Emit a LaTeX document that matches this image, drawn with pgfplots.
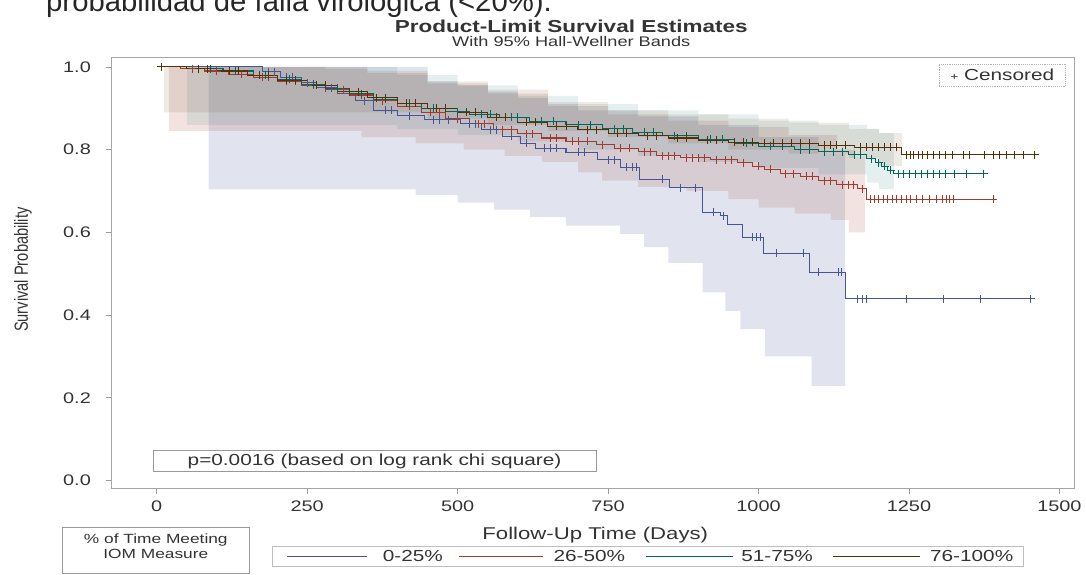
\documentclass[border=0pt]{standalone}
\usepackage{fontspec}
\setmainfont{Liberation Sans}[FakeStretch=1.3]
\newfontfamily\plainfont{Liberation Sans}
\usepackage{pgfplots}
\usepackage{pgfplotstable}
\usepgfplotslibrary{fillbetween}
\pgfplotsset{compat=1.18}
\definecolor{cA}{HTML}{445694}
\definecolor{cB}{HTML}{A23A2E}
\definecolor{cC}{HTML}{01665E}
\definecolor{cD}{HTML}{543005}
\definecolor{txt}{HTML}{333333}

\pgfplotstableread{
d s
0 1.000
175 0.988
205 0.975
240 0.962
265 0.950
300 0.935
330 0.918
360 0.895
400 0.882
445 0.872
505 0.862
540 0.848
575 0.832
605 0.815
630 0.803
680 0.793
733 0.775
771 0.757
802 0.728
852 0.708
907 0.649
937 0.640
948 0.618
973 0.588
1009 0.549
1084 0.503
1144 0.439
1452 0.439
}\survA
\pgfplotstableread{
d s
0 1.0
40 0.995
80 0.99
120 0.982
160 0.975
200 0.965
240 0.955
280 0.945
320 0.932
360 0.918
400 0.905
440 0.89
480 0.875
520 0.862
560 0.848
600 0.838
640 0.828
680 0.82
730 0.812
760 0.803
800 0.795
830 0.785
870 0.78
920 0.775
965 0.768
990 0.760
1010 0.752
1036 0.742
1070 0.735
1100 0.725
1130 0.715
1165 0.705
1180 0.68
1390 0.68
}\survB
\pgfplotstableread{
d s
0 1.0
60 0.995
110 0.99
160 0.98
200 0.97
240 0.958
280 0.948
320 0.935
360 0.922
400 0.912
440 0.9
480 0.892
520 0.885
570 0.878
620 0.868
680 0.86
740 0.85
790 0.842
840 0.833
900 0.825
960 0.815
1000 0.808
1060 0.8
1100 0.795
1150 0.788
1180 0.778
1195 0.768
1205 0.76
1215 0.75
1225 0.742
1374 0.742
}\survC
\pgfplotstableread{
d s
0 1.0
50 0.996
100 0.99
150 0.98
200 0.968
250 0.955
300 0.94
350 0.925
400 0.912
450 0.9
500 0.89
550 0.878
600 0.866
650 0.856
700 0.848
750 0.84
800 0.834
850 0.828
900 0.822
950 0.818
1000 0.815
1100 0.81
1160 0.806
1238 0.787
1459 0.787
}\survD

\pgfplotstableread{
d s
185 0.988
195 0.988
215 0.975
225 0.975
250 0.962
280 0.95
290 0.95
345 0.918
380 0.895
390 0.895
420 0.882
460 0.872
470 0.872
485 0.872
520 0.862
530 0.862
555 0.848
565 0.848
590 0.832
615 0.815
645 0.803
655 0.803
665 0.803
700 0.793
710 0.793
750 0.775
760 0.775
780 0.757
790 0.757
797 0.757
840 0.728
870 0.708
895 0.708
925 0.649
942 0.640
990 0.588
997 0.588
1003 0.588
1030 0.549
1075 0.549
1100 0.503
1132 0.503
1138 0.503
1164 0.439
1172 0.439
1180 0.439
1246 0.439
1308 0.439
1368 0.439
1452 0.439
}\censA
\pgfplotstableread{
d s
60 0.995
100 0.99
140 0.982
175 0.975
185 0.975
215 0.965
230 0.965
260 0.955
300 0.945
310 0.945
340 0.932
375 0.918
420 0.905
455 0.89
470 0.89
500 0.875
535 0.862
545 0.862
575 0.848
590 0.848
615 0.838
625 0.838
655 0.828
665 0.828
690 0.82
700 0.82
715 0.82
740 0.812
770 0.803
785 0.803
810 0.795
820 0.795
840 0.785
850 0.785
860 0.785
880 0.78
890 0.78
900 0.78
910 0.78
930 0.775
945 0.775
955 0.775
975 0.768
1000 0.76
1020 0.752
1045 0.742
1058 0.742
1080 0.735
1090 0.735
1110 0.725
1120 0.725
1140 0.715
1150 0.715
1158 0.715
1172 0.705
1186 0.68
1192 0.68
1200 0.68
1207 0.68
1215 0.68
1222 0.68
1230 0.68
1237 0.68
1245 0.68
1252 0.68
1262 0.68
1272 0.68
1284 0.68
1296 0.68
1306 0.68
1312 0.68
1318 0.68
1324 0.68
1390 0.68
}\censB
\pgfplotstableread{
d s
90 0.995
130 0.99
180 0.98
220 0.97
260 0.958
300 0.948
340 0.935
380 0.922
420 0.912
460 0.9
500 0.892
540 0.885
555 0.885
590 0.878
600 0.878
640 0.868
660 0.868
700 0.86
720 0.86
760 0.85
775 0.85
810 0.842
825 0.842
860 0.833
880 0.833
920 0.825
940 0.825
980 0.815
1020 0.808
1040 0.808
1070 0.8
1085 0.8
1110 0.795
1125 0.795
1140 0.795
1160 0.788
1170 0.788
1187 0.778
1200 0.768
1210 0.76
1220 0.75
1232 0.742
1240 0.742
1250 0.742
1260 0.742
1270 0.742
1280 0.742
1290 0.742
1300 0.742
1310 0.742
1325 0.742
1345 0.742
1374 0.742
}\censC
\pgfplotstableread{
d s
8 1.0
70 0.996
85 0.996
120 0.99
135 0.99
170 0.98
185 0.98
215 0.968
230 0.968
265 0.955
280 0.955
320 0.94
335 0.94
365 0.925
380 0.925
415 0.912
430 0.912
465 0.9
480 0.9
515 0.89
530 0.89
565 0.878
580 0.878
615 0.866
630 0.866
665 0.856
680 0.856
715 0.848
730 0.848
765 0.84
780 0.84
815 0.834
830 0.834
865 0.828
880 0.828
915 0.822
930 0.822
960 0.818
975 0.818
990 0.818
1010 0.815
1025 0.815
1040 0.815
1055 0.815
1070 0.815
1085 0.815
1110 0.81
1120 0.81
1130 0.81
1145 0.81
1170 0.806
1180 0.806
1190 0.806
1200 0.806
1210 0.806
1220 0.806
1230 0.806
1245 0.787
1252 0.787
1258 0.787
1265 0.787
1272 0.787
1280 0.787
1290 0.787
1300 0.787
1310 0.787
1322 0.787
1340 0.787
1350 0.787
1375 0.787
1390 0.787
1400 0.787
1412 0.787
1425 0.787
1440 0.787
1459 0.787
}\censD

\pgfplotstableread{
d lo hi
86 0.704 1.0
430 0.690 1.0
450 0.690 0.965
500 0.672 0.955
550 0.672 0.940
560 0.655 0.940
600 0.655 0.925
620 0.637 0.925
650 0.637 0.910
680 0.616 0.910
700 0.616 0.895
770 0.596 0.895
800 0.596 0.880
810 0.564 0.880
850 0.526 0.880
900 0.526 0.860
907 0.455 0.860
945 0.410 0.860
970 0.366 0.860
1000 0.366 0.830
1011 0.300 0.830
1088 0.229 0.830
1100 0.229 0.790
1144 0.229 0.790
}\bandA
\pgfplotstableread{
d lo hi
20 0.845 1.0
280 0.845 0.995
340 0.830 0.995
350 0.830 0.985
430 0.815 0.985
450 0.815 0.960
510 0.800 0.960
550 0.800 0.935
578 0.785 0.935
640 0.770 0.935
650 0.770 0.905
700 0.745 0.905
740 0.725 0.905
750 0.725 0.885
800 0.710 0.885
850 0.710 0.870
880 0.700 0.870
950 0.680 0.855
1000 0.660 0.855
1050 0.660 0.835
1060 0.645 0.835
1120 0.630 0.835
1130 0.630 0.800
1150 0.600 0.800
1160 0.600 0.780
1177 0.600 0.780
}\bandB
\pgfplotstableread{
d lo hi
50 0.860 1.0
400 0.850 0.980
500 0.835 0.955
600 0.820 0.930
700 0.800 0.910
800 0.785 0.895
900 0.770 0.885
1000 0.755 0.870
1100 0.740 0.860
1180 0.720 0.850
1200 0.705 0.840
1225 0.705 0.840
}\bandC
\pgfplotstableread{
d lo hi
12 0.890 1.0
350 0.890 0.990
450 0.875 0.965
550 0.860 0.945
650 0.845 0.915
750 0.830 0.895
850 0.815 0.885
950 0.800 0.875
1050 0.790 0.865
1150 0.780 0.850
1200 0.760 0.840
1238 0.760 0.840
}\bandD

\begin{document}
\begin{tikzpicture}
\begin{scope}[x=0.75pt,y=0.75pt]
\path[use as bounding box] (0,0) rectangle (1086,575);
\clip (0,0) rectangle (1086,575);
\node[anchor=base west, inner sep=0, font=\plainfont\fontsize{22}{26}\selectfont, text=black!85] at (46,563) {probabilidad de falla virológica (<20\%).};
\end{scope}
\begin{scope}[x=0.75pt,y=0.75pt]
\node[font=\bfseries\fontsize{13}{15}\selectfont, text=txt] at (572,549) {Product-Limit Survival Estimates};
\node[font=\fontsize{10.5}{12}\selectfont, text=txt] at (572,533) {With 95\% Hall-Wellner Bands};
\end{scope}

\begin{axis}[
  at={(83.25pt,64.5pt)}, anchor=south west,
  scale only axis, width=723.75pt, height=324pt,
  xmin=-76.3, xmax=1525.3, ymin=-0.019, ymax=1.024,
  xtick={0,250,500,750,1000,1250,1500},
  ytick={0,0.2,0.4,0.6,0.8,1.0},
  axis line style={draw=black!35},
  tick style={draw=black!40, line width=0.5pt},
  major tick length=4pt, tick align=outside,
  xtick pos=bottom, ytick pos=left,
  ticklabel style={font=\fontsize{11.5}{13}\selectfont, text=txt},
  xticklabel style={yshift=-2pt},
  yticklabel style={xshift=-7.5pt, /pgf/number format/.cd, fixed, fixed zerofill, precision=1},
  /pgf/number format/assume math mode=true,
  /pgf/number format/1000 sep={},
]
\addplot[name path=auA, draw=none, const plot, forget plot] table[x=d,y=hi] {\bandA};
\addplot[name path=alA, draw=none, const plot, forget plot] table[x=d,y=lo] {\bandA};
\addplot[fill=cA, fill opacity=0.16, draw=none, forget plot] fill between[of=auA and alA];
\addplot[name path=auB, draw=none, const plot, forget plot] table[x=d,y=hi] {\bandB};
\addplot[name path=alB, draw=none, const plot, forget plot] table[x=d,y=lo] {\bandB};
\addplot[fill=cB, fill opacity=0.14, draw=none, forget plot] fill between[of=auB and alB];
\addplot[name path=auC, draw=none, const plot, forget plot] table[x=d,y=hi] {\bandC};
\addplot[name path=alC, draw=none, const plot, forget plot] table[x=d,y=lo] {\bandC};
\addplot[fill=cC, fill opacity=0.10, draw=none, forget plot] fill between[of=auC and alC];
\addplot[name path=auD, draw=none, const plot, forget plot] table[x=d,y=hi] {\bandD};
\addplot[name path=alD, draw=none, const plot, forget plot] table[x=d,y=lo] {\bandD};
\addplot[fill=cD, fill opacity=0.10, draw=none, forget plot] fill between[of=auD and alD];
\addplot[cA, line width=0.8pt, const plot, forget plot] table[x=d,y=s] {\survA};
\addplot[cB, line width=0.8pt, const plot, forget plot] table[x=d,y=s] {\survB};
\addplot[cC, line width=0.8pt, const plot, forget plot] table[x=d,y=s] {\survC};
\addplot[cD, line width=0.8pt, const plot, forget plot] table[x=d,y=s] {\survD};
\addplot[cA, only marks, mark=+, mark size=3pt, line width=0.7pt, forget plot] table[x=d,y=s] {\censA};
\addplot[cB, only marks, mark=+, mark size=3pt, line width=0.7pt, forget plot] table[x=d,y=s] {\censB};
\addplot[cC, only marks, mark=+, mark size=3pt, line width=0.7pt, forget plot] table[x=d,y=s] {\censC};
\addplot[cD, only marks, mark=+, mark size=3pt, line width=0.7pt, forget plot] table[x=d,y=s] {\censD};
\end{axis}

\begin{scope}[x=0.75pt,y=0.75pt]
\node[font=\fontsize{12.8}{15}\selectfont, text=txt] at (596,39) {Follow-Up Time (Days)};
\node[rotate=90, text=txt] at (23,305) {\scalebox{1}[1.3]{\plainfont\fontsize{11}{13}\selectfont Survival Probability}};
\draw[black!30, densely dotted] (940,489) rectangle (1067,511);
\node[font=\fontsize{12}{14}\selectfont, text=txt] at (1003.5,500) {{\fontsize{8}{9}\selectfont+} Censored};
\draw[black!40, fill=white] (153,103) rectangle (597,124);
\node[font=\fontsize{12}{14}\selectfont, text=txt] at (375,113.5) {p=0.0016 (based on log rank chi square)};
\draw[black!40] (62,1) rectangle (250,47);
\node[font=\fontsize{10}{12}\selectfont, text=txt] at (156,34) {\% of Time Meeting};
\node[font=\fontsize{10}{12}\selectfont, text=txt] at (156,20) {IOM Measure};
\draw[black!25] (273,8) rectangle (1025,28);
\draw[cA, line width=0.7pt] (287,18) -- (367,18);
\node[anchor=west, inner sep=0, font=\fontsize{12}{14}\selectfont, text=txt] at (383,18) {0-25\%};
\draw[cB, line width=0.7pt] (460,18) -- (544,18);
\node[anchor=west, inner sep=0, font=\fontsize{12}{14}\selectfont, text=txt] at (554,18) {26-50\%};
\draw[cC, line width=0.7pt] (647,18) -- (734,18);
\node[anchor=west, inner sep=0, font=\fontsize{12}{14}\selectfont, text=txt] at (742,18) {51-75\%};
\draw[cD, line width=0.7pt] (834,18) -- (921,18);
\node[anchor=west, inner sep=0, font=\fontsize{12}{14}\selectfont, text=txt] at (931,18) {76-100\%};
\end{scope}
\end{tikzpicture}
\end{document}
